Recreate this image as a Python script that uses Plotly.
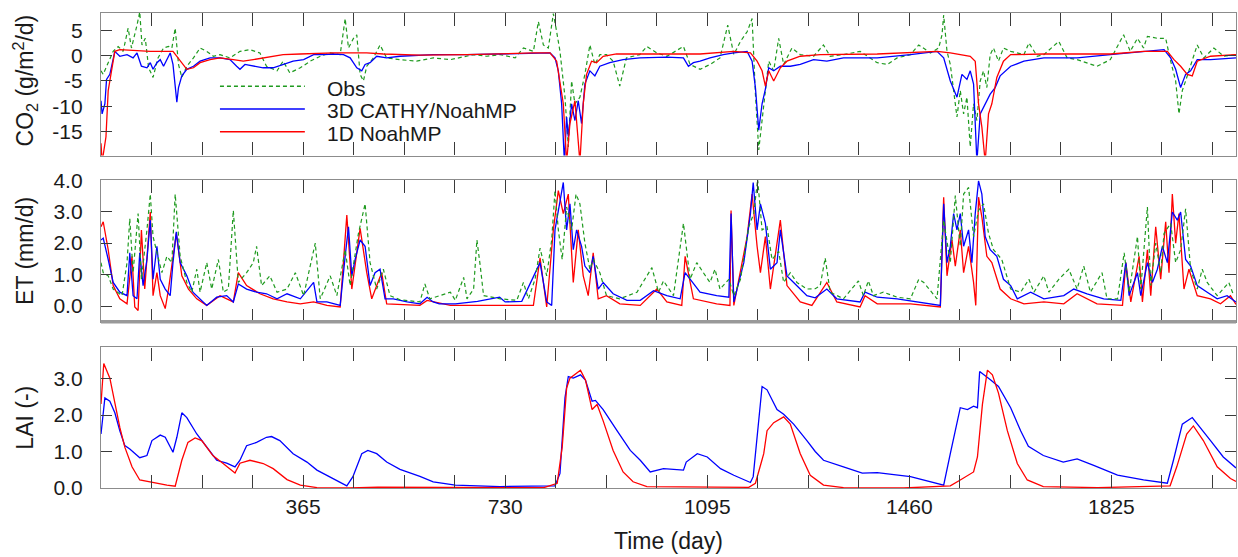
import plotly.graph_objects as go

# ---------------- CO2 flux (g/m2/d) ----------------
co2_obs_day = [0, 4, 13, 22, 31, 40, 49, 55, 65, 70, 74, 80, 86, 94, 103, 113, 122, 128, 134, 140,
               146, 155, 167, 179, 191, 203, 215, 233, 251, 269, 287, 299, 318, 329, 341, 360, 378, 396,
               414, 432, 441, 447, 456, 462, 468, 474, 480, 492, 504, 516, 540, 570, 600, 631, 673, 697,
               721, 748, 763, 781, 790, 799, 808, 817, 823, 829, 838, 844, 850, 856, 865, 874, 883, 892,
               901, 913, 925, 937, 949, 973, 986, 1004, 1022, 1052, 1064, 1082, 1100, 1118, 1132, 1143,
               1155, 1167, 1176, 1182, 1188, 1194, 1200, 1206, 1215, 1224, 1233, 1248, 1263, 1287, 1305,
               1317, 1341, 1371, 1402, 1420, 1438, 1462, 1477, 1498, 1513, 1519, 1522, 1528, 1534, 1540,
               1546, 1552, 1558, 1564, 1570, 1576, 1582, 1588, 1594, 1600, 1606, 1612, 1621, 1630, 1643,
               1667, 1676, 1691, 1703, 1730, 1745, 1763, 1781, 1799, 1823, 1847, 1859, 1872, 1883, 1890,
               1908, 1923, 1932, 1941, 1947, 1953, 1959, 1968, 1980, 1992, 2010, 2028, 2050]
co2_obs = [-3.0, -3.7, -1.4, 0.84, 1.8, 0.84, 5.4, 1.5, 6.0, 8.6, 2.1, 3.4, -2.4, -4.3, -0.45, 1.5, 1.8,
           1.5, 5.4, -1.75, -4.3, -2.1, -0.45, 1.5, 0.84, -0.13, 0.19, -0.45, 0.84, 1.17, 0.52, -2.1,
           -3.0, -1.1, -3.4, -2.4, -1.1, -0.13, 0.52, 0.19, 7.3, 1.5, 3.4, 4.1, -3.7, -5.0, -2.1, -0.45,
           2.1, -0.45, -0.8, -1.1, -0.45, -0.8, 0.19, -0.13, 0.19, -0.45, 1.5, 0.84, 6.7, 2.1, 1.5, 8.3,
           4.7, 0.84, -8.2, -18.0, -5.0, -9.5, -8.2, -3.7, 2.1, -1.75, 0.19, 0.19, -1.1, -6.0, -0.45,
           0.19, 1.8, 0.52, -0.13, 1.8, -1.75, -2.7, -1.75, -0.45, 6.0, 0.19, 2.8, 4.7, 7.3, -7.6,
           -18.6, -12.8, -8.2, -1.1, -3.0, 3.4, -1.75, 1.5, 0.19, -0.13, 2.1, -0.13, 0.19, 0.84, -1.4,
           -1.75, -0.45, 0.19, 2.1, 0.52, 1.5, 4.1, 8.0, 0.84, -1.75, -6.9, -12.1, -6.9, -11.5, -8.2,
           -18.0, -9.5, -12.8, -5.0, -3.0, -6.3, 0.19, 1.5, -1.1, 1.5, 0.84, 0.19, 2.5, -0.13, 0.19,
           2.8, -0.45, -0.8, -1.4, -2.1, -0.8, 4.1, 0.84, 3.4, 1.5, 3.8, 3.4, 3.4, -1.1, -5.0, -11.5,
           -6.9, -5.0, -1.75, 2.1, -0.45, 1.5, -0.13, 0.19]

co2_3d_day = [0, 2, 7, 10, 16, 22, 25, 34, 47, 58, 65, 73, 83, 89, 94, 101, 107, 113, 119, 125, 130,
              137, 140, 146, 155, 167, 179, 197, 215, 233, 245, 251, 260, 275, 293, 311, 329, 347, 366,
              384, 402, 420, 438, 450, 462, 471, 477, 486, 498, 516, 540, 600, 661, 721, 781, 811, 820,
              826, 832, 837, 841, 844, 850, 856, 862, 868, 874, 883, 892, 901, 919, 943, 973, 1022,
              1052, 1061, 1070, 1082, 1100, 1124, 1143, 1167, 1176, 1182, 1188, 1194, 1200, 1206, 1215,
              1227, 1245, 1263, 1287, 1311, 1341, 1402, 1462, 1510, 1522, 1534, 1546, 1555, 1564, 1570,
              1576, 1582, 1588, 1597, 1606, 1615, 1624, 1643, 1667, 1703, 1763, 1823, 1883, 1920, 1932,
              1941, 1950, 1959, 1968, 1980, 2004, 2040, 2050]
co2_3d = [-8.9, -11.5, -9.5, -4.7, -3.7, -0.45, 0.84, -0.13, 0.19, -0.45, 0.52, -2.1, -2.4, -1.4, -2.7,
          -1.4, -0.8, -2.1, -0.8, 0.52, -1.75, -9.2, -6.3, -4.0, -2.7, -2.1, -1.1, -0.45, -0.45, -0.8,
          -2.1, -2.7, -1.75, -2.1, -2.4, -2.4, -1.75, -1.1, -0.8, 0.19, 0.19, 0.32, 0.19, -0.45, -2.4,
          -3.0, -1.75, -1.4, -0.13, -0.45, -0.13, 0.19, 0.19, 0.32, 0.52, 0.52, -0.45, -3.0, -9.5,
          -21.0, -12.1, -16.0, -9.5, -12.8, -8.9, -13.4, -5.6, -3.0, -4.0, -2.1, -1.4, -0.8, -0.45,
          -0.3, -0.45, -2.1, -1.4, -1.1, -0.45, 0.19, 0.52, 0.84, -1.1, -6.3, -14.7, -9.5, -6.6, -2.4,
          -3.0, -2.1, -2.1, -1.75, -0.8, -1.1, -0.45, -0.45, 0.19, 0.84, -0.45, -5.0, -8.2, -3.7, -4.7,
          -3.0, -5.6, -21.0, -11.5, -9.5, -7.6, -6.3, -4.0, -2.1, -1.1, -0.45, -0.45, 0.19, 0.84, 1.17,
          -0.45, -2.7, -6.3, -3.7, -3.0, -0.8, -0.8, -0.45, -0.45]

co2_1d_day = [0, 2, 9, 13, 19, 25, 34, 58, 89, 130, 143, 155, 167, 179, 197, 215, 239, 257, 275, 299,
              329, 360, 420, 480, 510, 576, 661, 781, 811, 823, 829, 835, 841, 847, 856, 865, 871, 877,
              886, 895, 907, 931, 1082, 1143, 1173, 1185, 1194, 1200, 1206, 1215, 1227, 1239, 1263,
              1299, 1402, 1510, 1534, 1570, 1579, 1585, 1591, 1597, 1603, 1609, 1618, 1630, 1643, 1703,
              1823, 1883, 1926, 1938, 1950, 1962, 1971, 1980, 2004, 2050]
co2_1d = [-17.3, -21.0, -16.0, -6.9, -3.0, 0.84, 1.17, 0.97, 0.84, 0.84, -1.1, -2.7, -2.4, -1.4, -0.8,
          -0.45, -0.8, -1.1, -0.8, -0.3, 0.19, 0.32, 0.52, 0.52, 0.32, 0.1, 0.19, 0.52, 0.52, -1.1,
          -5.0, -9.5, -21.0, -13.4, -8.9, -21.0, -9.5, -3.7, -1.1, -1.4, -0.13, 0.32, 0.32, 0.84, 0.52,
          -1.1, -3.0, -6.0, -3.0, -5.0, -2.4, -1.1, -0.13, 0.19, 0.32, 0.84, 0.52, -0.13, -1.1, -9.5,
          -14.1, -21.0, -11.5, -9.5, -4.3, -1.1, 0.19, 0.32, 0.32, 0.84, 0.84, -0.8, -2.1, -3.7, -4.0,
          -1.1, -0.13, 0.19]

# ---------------- Evapotranspiration (mm/d) ----------------
et_obs_day = [0, 4, 13, 22, 38, 47, 52, 58, 67, 73, 83, 89, 94, 101, 110, 119, 128, 134, 143, 155, 164,
              173, 179, 191, 200, 212, 221, 230, 239, 248, 263, 275, 281, 290, 305, 318, 336, 351, 366,
              387, 396, 414, 426, 441, 450, 465, 477, 486, 498, 510, 522, 540, 576, 585, 594, 631, 640,
              655, 661, 673, 679, 685, 691, 721, 751, 763, 772, 784, 793, 805, 814, 820, 826, 833, 841,
              850, 858, 865, 874, 883, 889, 901, 913, 937, 968, 986, 995, 1007, 1016, 1034, 1052, 1064,
              1076, 1088, 1100, 1109, 1118, 1134, 1143, 1155, 1161, 1170, 1179, 1186, 1194, 1203, 1212,
              1224, 1233, 1245, 1257, 1275, 1290, 1299, 1308, 1317, 1341, 1368, 1377, 1386, 1395, 1413,
              1438, 1462, 1477, 1486, 1510, 1522, 1534, 1543, 1552, 1558, 1567, 1576, 1585, 1594, 1603,
              1612, 1627, 1643, 1661, 1676, 1685, 1703, 1712, 1730, 1748, 1763, 1775, 1787, 1808, 1817,
              1836, 1848, 1857, 1872, 1878, 1890, 1896, 1905, 1914, 1920, 1932, 1941, 1950, 1959, 1968,
              1980, 1989, 1998, 2016, 2037, 2046]
et_obs = [1.38, 1.06, 0.96, 0.54, 0.33, 1.38, 2.78, 1.06, 2.94, 0.85, 2.42, 3.56, 2.21, 1.69, 1.06,
          1.58, 1.38, 3.56, 1.58, 0.75, 0.44, 1.17, 0.44, 1.38, 0.54, 1.48, 0.44, 0.54, 3.04, 0.75, 1.06,
          1.38, 1.90, 0.65, 0.96, 0.44, 0.54, 1.06, 0.33, 2.0, 0.23, 0.96, 0.33, 1.79, 0.65, 2.31, 3.25,
          1.38, 0.54, 1.17, 0.33, 0.20, 0.13, 0.70, 0.23, 0.44, 0.18, 0.91, 0.23, 0.54, 2.10, 1.27, 0.33,
          0.23, 0.18, 0.75, 0.23, 0.85, 1.84, 0.96, 2.10, 3.67, 2.42, 1.48, 3.15, 2.42, 3.56, 3.25, 2.0,
          1.17, 1.48, 1.06, 0.33, 0.23, 0.44, 0.96, 1.22, 0.44, 0.80, 0.33, 2.63, 0.85, 1.38, 1.06, 0.75,
          1.17, 0.54, 0.85, 0.33, 0.85, 1.58, 2.52, 2.94, 4.03, 2.42, 2.52, 1.48, 1.74, 0.75, 1.06, 0.75,
          0.54, 0.55, 0.65, 1.53, 0.44, 0.23, 0.80, 0.33, 0.80, 0.33, 0.44, 0.28, 0.23, 0.85, 0.75, 0.23,
          2.73, 1.38, 3.51, 1.90, 3.56, 3.77, 2.21, 3.04, 3.25, 2.31, 1.79, 1.48, 0.54, 0.44, 0.85, 0.44,
          0.96, 0.44, 0.85, 1.17, 0.54, 1.27, 0.44, 1.06, 0.23, 0.23, 1.69, 0.44, 2.21, 0.54, 3.15, 0.65,
          2.0, 1.06, 2.31, 2.63, 1.38, 1.79, 3.09, 1.17, 0.54, 1.17, 0.75, 0.33, 0.75, 0.33]

et_3d_day = [0, 4, 13, 22, 34, 47, 52, 58, 65, 70, 76, 83, 89, 94, 101, 107, 116, 125, 130, 136, 143,
             155, 166, 179, 191, 209, 227, 239, 248, 263, 281, 299, 318, 336, 360, 384, 390, 408, 432,
             441, 447, 453, 459, 468, 477, 486, 495, 504, 513, 528, 553, 576, 589, 600, 611, 640, 680,
             720, 730, 760, 793, 805, 814, 820, 829, 835, 841, 847, 853, 859, 868, 874, 883, 889, 898,
             907, 925, 950, 974, 998, 1022, 1046, 1055, 1064, 1082, 1112, 1134, 1138, 1143, 1161, 1173,
             1178, 1185, 1191, 1200, 1209, 1221, 1227, 1239, 1251, 1275, 1290, 1311, 1329, 1371, 1380,
             1402, 1438, 1474, 1516, 1522, 1528, 1534, 1540, 1546, 1552, 1558, 1567, 1573, 1579, 1585,
             1591, 1597, 1606, 1618, 1630, 1643, 1655, 1679, 1703, 1739, 1757, 1781, 1811, 1842, 1851,
             1857, 1872, 1878, 1890, 1899, 1908, 1917, 1926, 1935, 1944, 1950, 1959, 1968, 1980, 1998,
             2016, 2034, 2050]
et_3d = [2.10, 2.16, 1.48, 0.75, 0.44, 0.33, 1.69, 0.33, 0.23, 1.69, 0.65, 1.48, 2.73, 0.85, 1.90, 0.85,
         0.54, 0.33, 1.38, 2.36, 1.38, 0.96, 0.44, 0.23, 0.02, 0.28, 0.33, 0.13, 0.70, 0.54, 0.44, 0.39,
         0.23, 0.39, 0.23, 0.75, 0.13, 0.13, 0.02, 1.58, 2.52, 0.96, 1.48, 2.10, 1.90, 0.65, 1.06, 1.17,
         0.23, 0.23, 0.13, 0.07, 0.28, 0.13, 0.07, 0.07, 0.15, 0.28, 0.13, 0.15, 1.38, 0.13, 0.02, 2.42,
         3.35, 3.93, 2.42, 3.25, 1.79, 2.42, 1.90, 1.27, 1.06, 1.58, 0.54, 0.75, 0.39, 0.18, 0.18, 0.49,
         0.33, 0.23, 1.06, 0.85, 0.44, 0.33, 0.28, 2.94, 0.13, 1.38, 2.94, 3.93, 2.42, 3.25, 2.63, 1.17,
         1.38, 2.42, 0.96, 0.75, 0.33, 0.26, 0.54, 0.23, 0.13, 0.44, 0.28, 0.23, 0.13, 0.02, 3.25, 1.38,
         1.90, 2.94, 2.42, 2.94, 1.90, 2.42, 1.38, 2.94, 3.98, 3.56, 2.21, 1.79, 1.58, 0.85, 0.65, 0.23,
         0.44, 0.23, 0.33, 0.54, 0.39, 0.23, 0.18, 1.38, 0.33, 1.06, 0.33, 1.38, 0.75, 1.17, 1.90, 1.38,
         2.99, 2.73, 2.99, 1.48, 1.27, 0.65, 0.44, 0.23, 0.33, 0.13]

et_1d_day = [0, 4, 13, 22, 34, 47, 56, 61, 67, 73, 79, 89, 94, 101, 107, 116, 122, 130, 136, 146, 158,
             173, 191, 215, 239, 248, 263, 287, 311, 336, 360, 384, 408, 432, 444, 453, 468, 480, 489,
             498, 507, 516, 540, 576, 589, 631, 721, 781, 793, 805, 817, 826, 835, 844, 853, 862, 871,
             880, 889, 898, 913, 937, 974, 1004, 1022, 1049, 1055, 1070, 1112, 1136, 1138, 1143, 1167,
             1176, 1185, 1191, 1200, 1209, 1227, 1239, 1263, 1284, 1311, 1329, 1371, 1380, 1402, 1462,
             1516, 1522, 1528, 1537, 1543, 1552, 1558, 1567, 1576, 1580, 1585, 1591, 1600, 1609, 1624,
             1643, 1667, 1703, 1739, 1763, 1799, 1845, 1851, 1860, 1875, 1881, 1890, 1896, 1905, 1914,
             1923, 1929, 1935, 1941, 1947, 1956, 1965, 1980, 2004, 2022, 2040, 2050]
et_1d = [2.52, 2.68, 1.79, 0.65, 0.23, 0.07, 1.58, -0.03, -0.14, 2.42, 0.54, 2.99, 0.33, 1.06, 0.33,
         -0.08, 0.54, 1.58, 2.31, 0.96, 0.54, 0.23, 0.02, 0.33, 0.13, 1.06, 0.65, 0.39, 0.23, 0.13, 0.07,
         0.13, 0.02, -0.03, 2.89, 0.54, 2.47, 1.06, 0.23, 0.65, 1.06, 0.07, 0.05, 0.02, 0.18, 0.02, 0.02,
         0.02, 1.53, -0.03, 2.42, 3.67, 2.94, 3.56, 0.75, 2.42, 0.96, 0.33, 1.69, 0.23, 0.33, 0.07, 0.02,
         0.54, 0.13, 0.02, 1.58, 0.23, 0.07, 0.02, 3.04, 0.02, 2.21, 3.56, 1.90, 1.06, 2.21, 0.54, 2.73,
         0.65, 0.13, 0.02, 0.75, 0.13, -0.03, 0.33, 0.07, 0.07, -0.03, 3.46, 0.96, 2.10, 1.27, 2.42, 1.06,
         1.90, 0.75, 0.02, 3.46, 2.83, 1.58, 1.38, 0.54, 0.23, 0.07, 0.13, 0.07, 0.39, 0.07, 0.02, 1.38,
         0.13, 1.58, 0.13, 1.79, 0.33, 2.52, 0.85, 2.68, 1.06, 3.56, 2.00, 2.94, 0.54, 1.17, 0.33, 0.23,
         0.07, 0.33, 0.05]

# ---------------- Leaf area index (-) ----------------
lai_3d_day = [0, 7, 16, 25, 34, 43, 52, 70, 83, 92, 107, 116, 130, 137, 146, 155, 173, 191, 209, 227,
              242, 251, 263, 281, 299, 308, 323, 347, 372, 390, 419, 444, 455, 471, 482, 498, 516, 540,
              576, 600, 640, 721, 820, 829, 838, 844, 853, 866, 875, 887, 893, 907, 932, 956, 974, 992,
              1016, 1052, 1057, 1077, 1095, 1119, 1143, 1173, 1178, 1194, 1203, 1221, 1233, 1251, 1275,
              1290, 1305, 1314, 1341, 1375, 1402, 1462, 1522, 1534, 1552, 1565, 1576, 1583, 1587, 1607,
              1621, 1643, 1661, 1675, 1702, 1738, 1763, 1793, 1836, 1883, 1926, 1937, 1953, 1971, 1980,
              2004, 2027, 2050]
lai_3d = [1.48, 2.47, 2.38, 2.06, 1.57, 1.16, 1.07, 0.83, 0.89, 1.30, 1.45, 1.39, 0.98, 1.39, 2.06, 1.93,
          1.48, 1.12, 0.76, 0.68, 0.58, 0.76, 1.16, 1.25, 1.39, 1.41, 1.30, 0.94, 0.71, 0.49, 0.26, 0.06,
          0.31, 0.94, 1.03, 0.94, 0.71, 0.51, 0.32, 0.17, 0.08, 0.04, 0.06, 0.40, 2.47, 3.05, 3.01, 3.10,
          2.96, 2.38, 2.40, 2.15, 1.57, 1.03, 0.76, 0.44, 0.53, 0.49, 0.71, 0.94, 0.85, 0.53, 0.35, 0.15,
          0.31, 2.78, 2.69, 2.15, 2.02, 1.75, 1.30, 1.00, 0.76, 0.71, 0.58, 0.41, 0.42, 0.31, 0.08, 0.94,
          2.20, 2.15, 2.24, 2.20, 3.19, 2.96, 2.78, 2.20, 1.57, 1.14, 0.89, 0.71, 0.80, 0.62, 0.35, 0.22,
          0.13, 0.76, 1.75, 1.93, 1.75, 1.30, 0.85, 0.55]

lai_1d_day = [0, 5, 16, 25, 34, 43, 56, 70, 92, 119, 134, 146, 157, 170, 182, 202, 220, 242, 251, 269,
              293, 311, 336, 360, 390, 450, 500, 600, 700, 800, 824, 833, 841, 847, 866, 875, 887, 896,
              907, 925, 943, 961, 986, 1050, 1100, 1170, 1182, 1197, 1203, 1215, 1233, 1245, 1263, 1281,
              1305, 1341, 1450, 1534, 1552, 1576, 1583, 1592, 1601, 1610, 1621, 1637, 1655, 1673, 1702,
              1800, 1931, 1943, 1961, 1973, 1991, 2016, 2040, 2050]
lai_1d = [2.3, 3.41, 3.01, 2.29, 1.66, 1.12, 0.58, 0.22, 0.15, 0.08, 0.05, 0.76, 1.25, 1.37, 1.30, 0.89,
          0.68, 0.41, 0.68, 0.76, 0.67, 0.53, 0.23, 0.08, 0.01, 0.0, 0.02, 0.02, 0.01, 0.01, 0.13, 1.12,
          2.74, 3.01, 3.23, 2.96, 2.15, 2.29, 1.84, 1.03, 0.44, 0.17, 0.04, 0.03, 0.02, 0.02, 0.13, 0.94,
          1.57, 1.79, 1.95, 1.75, 0.94, 0.35, 0.08, 0.01, 0.0, 0.06, 0.22, 0.44, 0.85, 2.29, 3.23, 3.10,
          2.60, 1.57, 0.67, 0.22, 0.04, 0.01, 0.06, 0.58, 1.48, 1.70, 1.30, 0.58, 0.26, 0.18]

# ---------------- axes text ----------------
year_ticks = [365, 730, 1095, 1460, 1825]
year_text = ["365", "730", "1095", "1460", "1825"]
quarter_ticks = [91.25 * k for k in range(1, 23)]
co2_ticks = [-15, -10, -5, 0, 5]
et_ticks = [0.0, 1.0, 2.0, 3.0, 4.0]
lai_ticks = [0.0, 1.0, 2.0, 3.0]

series_names = ["Obs", "3D CATHY/NoahMP", "1D NoahMP"]
GREEN, BLUE, RED = "#1f9a1f", "#0000ff", "#ff0000"
FONT = "Liberation Sans, Arial, Helvetica, sans-serif"
INK = "#1a1a1a"

fig = go.Figure()


def add_line(x, y, color, xa, ya, dash=None, width=1.3):
    fig.add_trace(go.Scatter(
        x=x, y=y, mode="lines", xaxis=xa, yaxis=ya, showlegend=False,
        line=dict(color=color, width=width, dash=dash), hoverinfo="skip"))


# CO2 panel
add_line(co2_obs_day, co2_obs, GREEN, "x", "y", dash="4px,3px", width=1.2)
add_line(co2_3d_day, co2_3d, BLUE, "x", "y")
add_line(co2_1d_day, co2_1d, RED, "x", "y")
# ET panel
add_line(et_1d_day, et_1d, RED, "x2", "y2")
add_line(et_3d_day, et_3d, BLUE, "x2", "y2")
add_line(et_obs_day, et_obs, GREEN, "x2", "y2", dash="4px,3px", width=1.2)
# LAI panel
add_line(lai_3d_day, lai_3d, BLUE, "x3", "y3")
add_line(lai_1d_day, lai_1d, RED, "x3", "y3")

FRAME = "#8c8c8c"
TICKC = "#3a3a3a"

xcommon = dict(range=[0, 2050], tickmode="array", tickvals=year_ticks, ticktext=year_text,
               ticks="inside", ticklen=13, tickwidth=1.3, tickcolor=TICKC,
               minor=dict(tickmode="array", tickvals=quarter_ticks, ticks="inside", ticklen=13,
                          tickwidth=1.3, tickcolor=TICKC, showgrid=False),
               showline=True, linecolor=FRAME, linewidth=1.4, mirror="ticks",
               showgrid=False, zeroline=False,
               tickfont=dict(family=FONT, size=21, color=INK))
ycommon = dict(ticks="inside", ticklen=11, tickwidth=1.3, tickcolor=TICKC,
               showline=True, linecolor=FRAME, linewidth=1.4, mirror="ticks",
               showgrid=False, zeroline=False, ticklabelstandoff=13,
               tickfont=dict(family=FONT, size=21, color=INK))

fig.update_layout(
    width=1238, height=557,
    margin=dict(l=101, r=1, t=8, b=69),
    paper_bgcolor="white", plot_bgcolor="white",
    showlegend=False,
    xaxis=dict(xcommon, anchor="y", domain=[0, 1], showticklabels=False),
    xaxis2=dict(xcommon, anchor="y2", domain=[0, 1], showticklabels=False, matches="x"),
    xaxis3=dict(xcommon, anchor="y3", domain=[0, 1], matches="x",
                title=dict(text="Time (day)", font=dict(family=FONT, size=23, color=INK), standoff=15)),
    yaxis=dict(ycommon, anchor="x", domain=[0.70, 1.0], range=[-19.7, 8.4],
               tickvals=co2_ticks, ticktext=[str(v) for v in co2_ticks]),
    yaxis2=dict(ycommon, anchor="x2", domain=[0.35, 0.6479], range=[-0.5, 4.0],
                tickvals=et_ticks, ticktext=["%.1f" % v for v in et_ticks]),
    yaxis3=dict(ycommon, anchor="x3", domain=[0.0, 0.2958], range=[0, 3.85],
                tickvals=lai_ticks, ticktext=["%.1f" % v for v in lai_ticks]),
)

# heavier rule under the ET panel
fig.add_shape(type="line", xref="paper", yref="paper", x0=0, x1=1, y0=0.35, y1=0.35,
              line=dict(color="#999999", width=3.5))

# y-axis titles
ytitles = [("CO<sub>2</sub> (g/m<sup>2</sup>/d)", 0.858), ("ET (mm/d)", 0.499), ("LAI (-)", 0.148)]
for text, yc in ytitles:
    fig.add_annotation(text=text, xref="paper", yref="paper", x=-0.067, y=yc,
                       xanchor="center", yanchor="middle", textangle=-90, showarrow=False,
                       font=dict(family=FONT, size=23, color=INK))

# legend inside the CO2 panel
legend_rows = [(series_names[0], GREEN, "4px,3px", 0.8458),
               (series_names[1], BLUE, None, 0.7979),
               (series_names[2], RED, None, 0.7500)]
for name, color, dash, yl in legend_rows:
    fig.add_shape(type="line", xref="paper", yref="paper", x0=0.1048, x1=0.1796, y0=yl, y1=yl,
                  line=dict(color=color, width=1.3, dash=dash))
    fig.add_annotation(text=name, xref="paper", yref="paper", x=0.197, y=yl - 0.004,
                       xanchor="left", yanchor="middle", showarrow=False,
                       font=dict(family=FONT, size=21, color=INK))

fig.write_html("out.html")
